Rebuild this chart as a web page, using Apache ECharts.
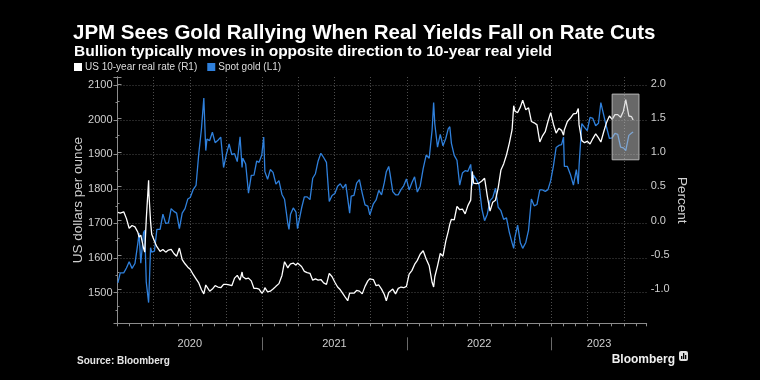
<!DOCTYPE html>
<html>
<head>
<meta charset="utf-8">
<script src="https://cdn.jsdelivr.net/npm/echarts@6/dist/echarts.min.js"></script>
<style>
html,body{margin:0;padding:0;background:#000;}
#chart{width:760px;height:380px;}
</style>
</head>
<body>
<div id="chart"></div>
<script>
// ---------- data ----------
const dates = [
'2020-01-02','2020-01-08','2020-01-10','2020-01-17','2020-01-24','2020-01-31','2020-02-07','2020-02-14','2020-02-21','2020-02-24','2020-02-28',
'2020-03-06','2020-03-09','2020-03-13','2020-03-19','2020-03-20','2020-03-24','2020-03-27','2020-04-03','2020-04-09','2020-04-17','2020-04-24',
'2020-05-01','2020-05-08','2020-05-15','2020-05-22','2020-05-29','2020-06-05','2020-06-12','2020-06-19','2020-06-26','2020-07-02','2020-07-10',
'2020-07-17','2020-07-24','2020-07-31','2020-08-06','2020-08-11','2020-08-14','2020-08-21','2020-08-28','2020-09-04','2020-09-11','2020-09-18',
'2020-09-25','2020-10-02','2020-10-09','2020-10-16','2020-10-23','2020-10-30','2020-11-06','2020-11-11','2020-11-13','2020-11-20','2020-11-27',
'2020-12-04','2020-12-11','2020-12-18','2020-12-24','2020-12-31',
'2021-01-05','2021-01-08','2021-01-15','2021-01-22','2021-01-29','2021-02-05','2021-02-12','2021-02-19','2021-02-25','2021-03-05','2021-03-08',
'2021-03-12','2021-03-19','2021-03-26','2021-03-30','2021-04-09','2021-04-16','2021-04-23','2021-04-30','2021-05-07','2021-05-14','2021-05-21',
'2021-05-28','2021-06-04','2021-06-11','2021-06-18','2021-06-25','2021-07-02','2021-07-09','2021-07-16','2021-07-23','2021-07-30','2021-08-04',
'2021-08-09','2021-08-13','2021-08-20','2021-08-27','2021-09-03','2021-09-10','2021-09-17','2021-09-24','2021-09-29','2021-10-08','2021-10-15',
'2021-10-22','2021-10-29','2021-11-05','2021-11-10','2021-11-16','2021-11-19','2021-11-26','2021-12-03','2021-12-10','2021-12-17','2021-12-24',
'2021-12-31',
'2022-01-07','2022-01-14','2022-01-21','2022-01-28','2022-02-04','2022-02-11','2022-02-18','2022-02-25','2022-03-04','2022-03-08','2022-03-11',
'2022-03-18','2022-03-25','2022-04-01','2022-04-08','2022-04-14','2022-04-18','2022-04-22','2022-04-29','2022-05-06','2022-05-13','2022-05-20',
'2022-05-27','2022-06-03','2022-06-10','2022-06-14','2022-06-17','2022-06-24','2022-07-01','2022-07-08','2022-07-15','2022-07-22','2022-07-29',
'2022-08-05','2022-08-12','2022-08-19','2022-08-26','2022-09-02','2022-09-09','2022-09-16','2022-09-23','2022-09-27','2022-09-30','2022-10-07',
'2022-10-14','2022-10-20','2022-10-28','2022-11-04','2022-11-11','2022-11-18','2022-11-25','2022-12-02','2022-12-09','2022-12-16','2022-12-23',
'2022-12-30',
'2023-01-06','2023-01-13','2023-01-20','2023-01-27','2023-02-01','2023-02-03','2023-02-10','2023-02-17','2023-02-24','2023-03-03','2023-03-08',
'2023-03-10','2023-03-17','2023-03-24','2023-03-31','2023-04-07','2023-04-14','2023-04-21','2023-04-28','2023-05-04','2023-05-12','2023-05-19',
'2023-05-26','2023-06-02','2023-06-09','2023-06-16','2023-06-23','2023-06-30','2023-07-06','2023-07-14','2023-07-21','2023-07-25'
];
const spotGold = [
1528,1557,1562,1557,1571,1589,1570,1584,1643,1672,1585,
1674,1680,1530,1471,1498,1630,1617,1620,1683,1683,1727,
1700,1702,1743,1735,1730,1685,1730,1743,1771,1775,1799,
1810,1902,1975,2063,1911,1944,1940,1964,1934,1941,1950,
1862,1900,1930,1899,1902,1879,1951,1862,1889,1872,1788,
1839,1840,1881,1877,1898,
1950,1850,1828,1856,1848,1814,1824,1784,1770,1700,1683,
1727,1745,1733,1685,1744,1777,1777,1769,1831,1844,1881,
1903,1891,1877,1764,1781,1787,1808,1815,1802,1814,1812,
1730,1779,1781,1817,1827,1788,1754,1750,1725,1757,1768,
1796,1783,1818,1850,1865,1846,1792,1783,1783,1798,1809,
1829,
1797,1818,1835,1791,1808,1859,1898,1889,1970,2050,1988,
1921,1958,1925,1946,1974,1980,1932,1897,1883,1811,1846,
1853,1851,1871,1810,1840,1827,1811,1742,1708,1727,1766,
1775,1802,1747,1737,1712,1716,1675,1644,1628,1660,1695,
1644,1628,1645,1681,1771,1751,1755,1797,1797,1793,1798,
1824,
1866,1920,1926,1928,1950,1865,1865,1842,1811,1856,1814,
1868,1989,1978,1969,2007,2004,1983,1990,2050,2011,1977,
1946,1948,1961,1958,1921,1919,1911,1955,1962,1965
];
const realRate = [
0.12,0.11,0.11,0.13,0.03,-0.11,-0.07,-0.09,-0.17,-0.24,-0.21,
-0.40,-0.46,0.02,0.59,0.38,-0.01,-0.20,-0.30,-0.38,-0.45,-0.42,
-0.46,-0.43,-0.42,-0.48,-0.52,-0.40,-0.57,-0.63,-0.68,-0.71,-0.79,
-0.85,-0.91,-1.01,-1.07,-0.94,-0.92,-1.03,-1.00,-0.95,-0.97,-0.98,
-0.93,-0.93,-0.94,-0.95,-0.84,-0.80,-0.87,-0.75,-0.82,-0.85,-0.84,
-0.88,-0.99,-0.99,-1.00,-1.06,
-1.03,-0.98,-1.04,-1.03,-1.00,-0.96,-0.92,-0.80,-0.60,-0.69,-0.66,
-0.63,-0.62,-0.65,-0.62,-0.67,-0.74,-0.76,-0.77,-0.87,-0.85,-0.87,
-0.86,-0.91,-0.93,-0.77,-0.82,-0.90,-0.97,-1.01,-1.07,-1.13,-1.17,
-1.06,-1.08,-1.06,-1.02,-1.03,-1.07,-0.96,-0.88,-0.85,-0.86,-0.95,
-0.94,-1.00,-1.08,-1.17,-1.05,-1.07,-1.00,-1.07,-0.99,-0.97,-0.98,
-0.96,
-0.78,-0.73,-0.64,-0.58,-0.49,-0.44,-0.56,-0.66,-0.90,-0.97,-0.82,
-0.66,-0.48,-0.52,-0.30,-0.16,-0.05,0.02,0.01,0.21,0.16,0.17,
0.10,0.22,0.30,0.72,0.55,0.54,0.55,0.58,0.62,0.36,0.14,
0.27,0.30,0.48,0.74,0.83,0.96,1.13,1.33,1.68,1.60,1.58,
1.66,1.76,1.62,1.65,1.45,1.43,1.40,1.15,1.24,1.30,1.45,
1.58,
1.41,1.28,1.35,1.32,1.25,1.33,1.45,1.50,1.56,1.57,1.64,
1.40,1.17,1.14,1.16,1.12,1.20,1.27,1.21,1.15,1.31,1.44,
1.53,1.48,1.55,1.55,1.51,1.60,1.77,1.53,1.52,1.47
];
const yearLabels = ['2020','2021','2022','2023'];
const highlightDates = ['2023-06-02','2023-08-09'];
const highlightRate = [0.89, 1.85];

// ---------- helpers ----------
function toMonth(s){
  const p = s.split('-').map(Number);
  const dim = new Date(p[0], p[1], 0).getDate();
  return (p[0]-2020)*12 + (p[1]-1) + (p[2]-1)/dim;
}
const X_MAX = 43.9;
const goldData = dates.map((d,i)=>[toMonth(d), spotGold[i]]);
const rateData = dates.map((d,i)=>[toMonth(d), realRate[i]]);
const yearCenters = yearLabels.map((y,i)=> i < yearLabels.length-1 ? i*12+6 : (i*12 + X_MAX)/2);
const yearBounds = yearLabels.slice(1).map((y,i)=> (i+1)*12);

const FONT = '"Liberation Sans", Arial, sans-serif';
const axisGray = '#8c8c8c';
const labelCol = '#cfcfcf';
const gridCol = '#4d4d4d';

const chart = echarts.init(document.getElementById('chart'), null, {renderer:'canvas'});
chart.setOption({
  backgroundColor: '#000',
  animation: false,
  textStyle: {fontFamily: FONT},
  title: [
    {text: 'JPM Sees Gold Rallying When Real Yields Fall on Rate Cuts', left: 68, top: 18,
     textStyle: {color:'#fff', fontSize: 20.5, fontWeight:'bold', fontFamily: FONT}},
    {text: 'Bullion typically moves in opposite direction to 10-year real yield', left: 69, top: 39,
     textStyle: {color:'#fff', fontSize: 15.5, fontWeight:'bold', fontFamily: FONT}},
    {text: 'Source: Bloomberg', left: 72, top: 351,
     textStyle: {color:'#e6e6e6', fontSize: 10, fontWeight:'bold', fontFamily: FONT}},
    {text: 'Bloomberg', right: 80, top: 349,
     textStyle: {color:'#f0f0f0', fontSize: 12, fontWeight:'bold', fontFamily: FONT}}
  ],
  legend: {
    left: 74, top: 62, padding: 0, itemGap: 10, itemWidth: 8, itemHeight: 8,
    icon: 'rect', selectedMode: false,
    textStyle: {color:'#dcdcdc', fontSize: 10, padding:[0,0,0,-2]},
    data: ['US 10-year real rate (R1)', 'Spot gold (L1)']
  },
  grid: {left: 117.5, right: 113.3, top: 77, bottom: 56.7, containLabel: false},
  xAxis: [
    {type:'value', min:0, max:X_MAX, interval:1, position:'bottom',
     axisLine:{show:true, onZero:false, lineStyle:{color:axisGray, width:1}},
     axisTick:{show:true, length:3, lineStyle:{color:axisGray}},
     axisLabel:{show:false}, splitLine:{show:false}},
    {type:'value', min:0, max:X_MAX, interval:3, position:'bottom',
     axisLine:{show:false}, axisTick:{show:false}, axisLabel:{show:false},
     splitLine:{show:true, showMinLine:false, showMaxLine:false, lineStyle:{color:gridCol, type:[1,2], width:1}}},
    {type:'value', min:0, max:X_MAX, position:'bottom', offset:14,
     axisLine:{show:false},
     axisTick:{show:true, customValues: yearBounds, length:13, lineStyle:{color:'#6a6a6a'}},
     axisLabel:{show:true, customValues: yearCenters, margin:1, color:labelCol, fontSize:11,
       formatter: v => yearLabels[yearCenters.findIndex(c => Math.abs(c-v) < 0.01)] || ''},
     splitLine:{show:false}}
  ],
  yAxis: [
    {type:'value', position:'left', min:1411, max:2124, minInterval:100, maxInterval:100, splitNumber:7,
     name:'US dollars per ounce', nameLocation:'middle', nameGap:32, nameRotate:90, nameMoveOverlap:false,
     nameTextStyle:{color:labelCol, fontSize:13.5},
     axisLine:{show:true, lineStyle:{color:axisGray}},
     axisTick:{show:true, length:4, lineStyle:{color:axisGray}},
     minorTick:{show:true, splitNumber:2, length:2, lineStyle:{color:axisGray}},
     axisLabel:{color:labelCol, fontSize:11, margin:5, showMinLabel:false, showMaxLabel:false,
       formatter: v => String(Math.round(v))},
     splitLine:{show:true, showMinLine:false, showMaxLine:false, lineStyle:{color:gridCol, type:[1,2], width:1}}},
    {type:'value', position:'right', min:-1.5, max:2.1, interval:0.5,
     name:'Percent', nameLocation:'middle', nameGap:28, nameRotate:-90, nameMoveOverlap:false,
     nameTextStyle:{color:labelCol, fontSize:13.5},
     axisLine:{show:true, lineStyle:{color:axisGray}},
     axisTick:{show:true, length:4, lineStyle:{color:axisGray}},
     minorTick:{show:true, splitNumber:2, length:2, lineStyle:{color:axisGray}},
     axisLabel:{color:labelCol, fontSize:11, margin:4, showMinLabel:false, showMaxLabel:false,
       formatter: v => v.toFixed(1)},
     splitLine:{show:false}}
  ],
  series: [
    {name:'Spot gold (L1)', type:'line', xAxisIndex:0, yAxisIndex:0, data: goldData,
     showSymbol:false, symbol:'none', color:'#2f80dc', lineStyle:{width:1.3, color:'#2f80dc'}, z:2},
    {name:'US 10-year real rate (R1)', type:'line', xAxisIndex:0, yAxisIndex:1, data: rateData,
     showSymbol:false, symbol:'none', color:'#ffffff', lineStyle:{width:1.3, color:'#ffffff'}, z:3},
    {name:'highlight', type:'line', xAxisIndex:0, yAxisIndex:1, data: [], z:10, silent:true,
     markArea:{silent:true, z:10,
       itemStyle:{color:'rgba(200,200,200,0.52)', borderColor:'#b5b5b5', borderWidth:1},
       data:[[{coord:[toMonth(highlightDates[0]), highlightRate[1]]},
              {coord:[toMonth(highlightDates[1]), highlightRate[0]]}]]}}
  ],
  graphic: [
    {type:'group', right: 72, top: 351, children: [
      {type:'rect', shape:{x:0, y:0, width:9, height:10, r:2}, style:{fill:'#e0e0e0'}},
      {type:'rect', shape:{x:2, y:5, width:1.3, height:3}, style:{fill:'#000'}},
      {type:'rect', shape:{x:4, y:2, width:1.3, height:6}, style:{fill:'#000'}},
      {type:'rect', shape:{x:6, y:4, width:1.3, height:4}, style:{fill:'#000'}}
    ]}
  ]
});
</script>
</body>
</html>
